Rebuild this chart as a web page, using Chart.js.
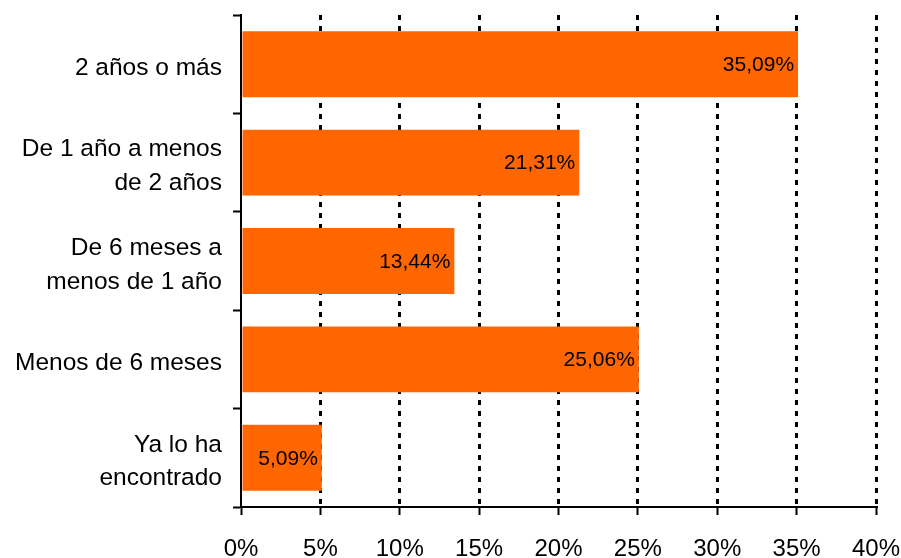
<!DOCTYPE html>
<html>
<head>
<meta charset="utf-8">
<script src="https://cdn.jsdelivr.net/npm/chart.js@4"></script>
<style>
  html, body { margin: 0; padding: 0; background: #fff; }
  #wrap { width: 901px; height: 558px; }
</style>
</head>
<body>
<div id="wrap"><canvas id="myChart" width="901" height="558"></canvas></div>
<script>
  // categories top to bottom, values in %
  const categories = [
    '2 años o más',
    ['De 1 año a menos', 'de 2 años'],
    ['De 6 meses a', 'menos de 1 año'],
    'Menos de 6 meses',
    ['Ya lo ha', 'encontrado']
  ];
  const values = [35.09, 21.31, 13.44, 25.06, 5.09];
  const xTicks = [0, 5, 10, 15, 20, 25, 30, 35, 40];

  const ctx = document.getElementById('myChart');
  const fontFamily = '"Liberation Sans", Arial, sans-serif';

  // value labels at the end of each bar
  const barLabels = {
    id: 'barLabels',
    afterDatasetsDraw(chart) {
      const c = chart.ctx;
      const meta = chart.getDatasetMeta(0);
      c.save();
      c.font = '21px ' + fontFamily;
      c.fillStyle = '#000';
      c.textAlign = 'right';
      c.textBaseline = 'middle';
      meta.data.forEach((bar, i) => {
        const txt = values[i].toFixed(2).replace('.', ',') + '%';
        c.fillText(txt, bar.x - 4, bar.y + 1);
      });
      c.restore();
    }
  };

  // no extra room for tick labels, the layout padding handles it
  function noPad(axis) {
    axis.paddingLeft = 0;
    axis.paddingRight = 0;
    axis.paddingTop = 0;
    axis.paddingBottom = 0;
  }

  new Chart(ctx, {
    type: 'bar',
    data: {
      labels: categories,
      datasets: [{
        data: values,
        backgroundColor: '#FF6600',
        borderWidth: 0,
        barPercentage: 0.67,
        categoryPercentage: 1
      }]
    },
    options: {
      indexAxis: 'y',
      responsive: false,
      animation: false,
      layout: { padding: { top: 15, right: 25, left: 0, bottom: 0 } },
      plugins: {
        legend: { display: false },
        tooltip: { enabled: false }
      },
      scales: {
        x: {
          min: 0,
          max: 40,
          afterBuildTicks(axis) { axis.ticks = xTicks.map(v => ({ value: v })); },
          afterFit(axis) { axis.height = 51; noPad(axis); },
          ticks: {
            color: '#000',
            padding: 20,
            maxRotation: 0,
            font: { family: fontFamily, size: 24 },
            callback: v => v + '%'
          },
          grid: {
            color: c => c.index === 0 ? 'rgba(0,0,0,0)' : '#000',
            lineWidth: 3,
            tickColor: '#000',
            tickWidth: 2,
            tickLength: 8,
            tickBorderDash: []
          },
          border: { display: true, color: '#000', width: 2, dash: [5, 6] }
        },
        y: {
          afterFit(axis) { axis.width = 241; noPad(axis); },
          ticks: {
            color: '#000',
            padding: 11,
            labelOffset: 4,
            font: { family: fontFamily, size: 24.5, lineHeight: 1.38 }
          },
          grid: {
            drawOnChartArea: false,
            drawTicks: true,
            tickLength: 8,
            tickColor: '#000',
            tickWidth: 2
          },
          border: { display: true, color: '#000', width: 2 }
        }
      }
    },
    plugins: [barLabels]
  });
</script>
</body>
</html>
